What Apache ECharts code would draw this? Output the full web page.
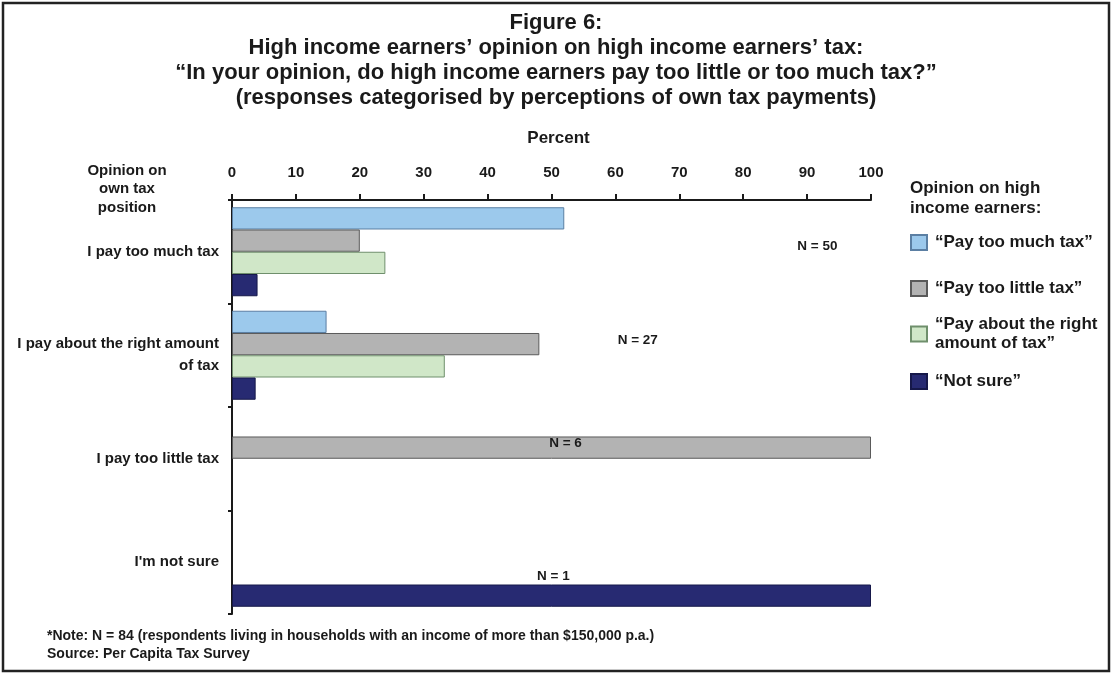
<!DOCTYPE html>
<html>
<head>
<meta charset="utf-8">
<script src="https://cdn.jsdelivr.net/npm/echarts@6/dist/echarts.min.js"></script>
<style>
  html, body { margin: 0; padding: 0; background: #fff; }
  #chart { width: 1113px; height: 675px; }
</style>
</head>
<body>
<div id="chart"></div>
<script>
// Own tax position (rows, top to bottom)
const categories = [
  'I pay too much tax',
  'I pay about the right amount\nof tax',
  'I pay too little tax',
  "I'm not sure"
];
// Opinion on high income earners (series names)
const seriesNames = [
  '\u201CPay too much tax\u201D',
  '\u201CPay too little tax\u201D',
  '\u201CPay about the right\namount of tax\u201D',
  '\u201CNot sure\u201D'
];
// Percent of respondents in each row
const payTooMuch   = [52, 14.8, null, null];
const payTooLittle = [20, 48.1, 100, null];
const aboutRight   = [24, 33.3, null, null];
const notSure      = [4, 3.7, null, 100];
// Respondents per row
const sampleSize = [50, 27, 6, 1];
// X axis ticks
const xTicks = [0, 10, 20, 30, 40, 50, 60, 70, 80, 90, 100];

const FONT = '"Liberation Sans", Arial, Helvetica, sans-serif';
const INK = '#1a1a1a';

const palette = [
  { fill: '#9cc9ec', border: '#5b7fa3' },
  { fill: '#b3b3b3', border: '#5a5a5a' },
  { fill: '#d0e7c8', border: '#6f8f6c' },
  { fill: '#272a72', border: '#16184a' }
];
const values = [payTooMuch, payTooLittle, aboutRight, notSure];

// One legend block per entry so each sits at its own height
const legendTops = [228, 274, 310, 367];
const legends = seriesNames.map((name, i) => ({
  orient: 'vertical',
  left: 905,
  top: legendTops[i],
  itemWidth: 16,
  itemHeight: 15,
  itemGap: 0,
  icon: 'rect',
  selectedMode: false,
  data: [name],
  textStyle: { fontFamily: FONT, fontSize: 17, fontWeight: 'bold', color: INK, lineHeight: 19, padding: [0, 0, 0, 3] }
}));

const chart = echarts.init(document.getElementById('chart'), null, { renderer: 'canvas' });

const option = {
  animation: false,
  backgroundColor: '#fff',
  grid: { left: 232, right: 242, top: 200, bottom: 61, containLabel: false },
  legend: legends,
  xAxis: {
    type: 'value',
    position: 'top',
    min: 0,
    max: 100,
    interval: 10,
    name: 'Percent',
    nameLocation: 'middle',
    nameGap: 53,
    nameTextStyle: { fontFamily: FONT, fontSize: 17, fontWeight: 'bold', color: INK, padding: [0, 0, 0, 14] },
    axisLine: { show: true, lineStyle: { color: INK, width: 2 } },
    axisTick: { show: true, length: 6, lineStyle: { color: INK, width: 2 } },
    axisLabel: {
      fontFamily: FONT, fontSize: 15, fontWeight: 'bold', color: INK, margin: 20,
      formatter: v => (xTicks.indexOf(v) >= 0 ? String(v) : '')
    },
    splitLine: { show: false }
  },
  yAxis: {
    type: 'category',
    inverse: true,
    data: categories,
    axisLine: { show: true, lineStyle: { color: INK, width: 2 } },
    axisTick: { show: true, length: 4, lineStyle: { color: INK, width: 2 } },
    axisLabel: {
      fontFamily: FONT, fontSize: 15, fontWeight: 'bold', color: INK, margin: 13,
      lineHeight: 22, align: 'right'
    }
  },
  series: seriesNames.map((name, i) => ({
    name,
    type: 'bar',
    data: values[i],
    barGap: '0%',
    barCategoryGap: '14%',
    itemStyle: { color: palette[i].fill, borderColor: palette[i].border, borderWidth: 1 },
    emphasis: { disabled: true }
  }))
};
chart.setOption(option);

// Sample-size annotations, placed in data space
const notePlacement = [
  { x: 91.6, dy: -5 },
  { x: 63.5, dy: -15 },
  { x: 52.2, dy: -15 },
  { x: 50.3, dy: 14 }
];
const textStyleN = { fontFamily: FONT, fontSize: 13.5, fontWeight: 'bold', fill: INK, align: 'center', verticalAlign: 'middle' };
const graphics = sampleSize.map((n, i) => {
  const p = chart.convertToPixel({ gridIndex: 0 }, [notePlacement[i].x, i]);
  return {
    type: 'text', x: p[0], y: p[1] + notePlacement[i].dy, z: 100,
    style: Object.assign({ text: 'N = ' + n }, textStyleN)
  };
});

graphics.push(
  {
    type: 'rect', shape: { x: 3, y: 3, width: 1106, height: 668 }, z: 100,
    style: { fill: null, stroke: '#222', lineWidth: 2.5 }, silent: true
  },
  {
    type: 'text', x: 556, y: 60, z: 100,
    style: {
      text: 'Figure 6:\nHigh income earners\u2019 opinion on high income earners\u2019 tax:\n\u201CIn your opinion, do high income earners pay too little or too much tax?\u201D\n(responses categorised by perceptions of own tax payments)',
      fontFamily: FONT, fontSize: 22, fontWeight: 'bold', fill: INK,
      align: 'center', verticalAlign: 'middle', lineHeight: 25
    }
  },
  {
    type: 'text', x: 127, y: 189, z: 100,
    style: { text: 'Opinion on\nown tax\nposition', fontFamily: FONT, fontSize: 15, fontWeight: 'bold', fill: INK, align: 'center', verticalAlign: 'middle', lineHeight: 18.5 }
  },
  {
    type: 'text', x: 910, y: 198, z: 100,
    style: { text: 'Opinion on high\nincome earners:', fontFamily: FONT, fontSize: 17, fontWeight: 'bold', fill: INK, align: 'left', verticalAlign: 'middle', lineHeight: 20 }
  },
  {
    type: 'text', x: 47, y: 645, z: 100,
    style: { text: '*Note: N = 84 (respondents living in households with an income of more than $150,000 p.a.)\nSource: Per Capita Tax Survey', fontFamily: FONT, fontSize: 14, fontWeight: 'bold', fill: INK, align: 'left', verticalAlign: 'middle', lineHeight: 18 }
  }
);
chart.setOption({ graphic: graphics });
</script>
</body>
</html>
